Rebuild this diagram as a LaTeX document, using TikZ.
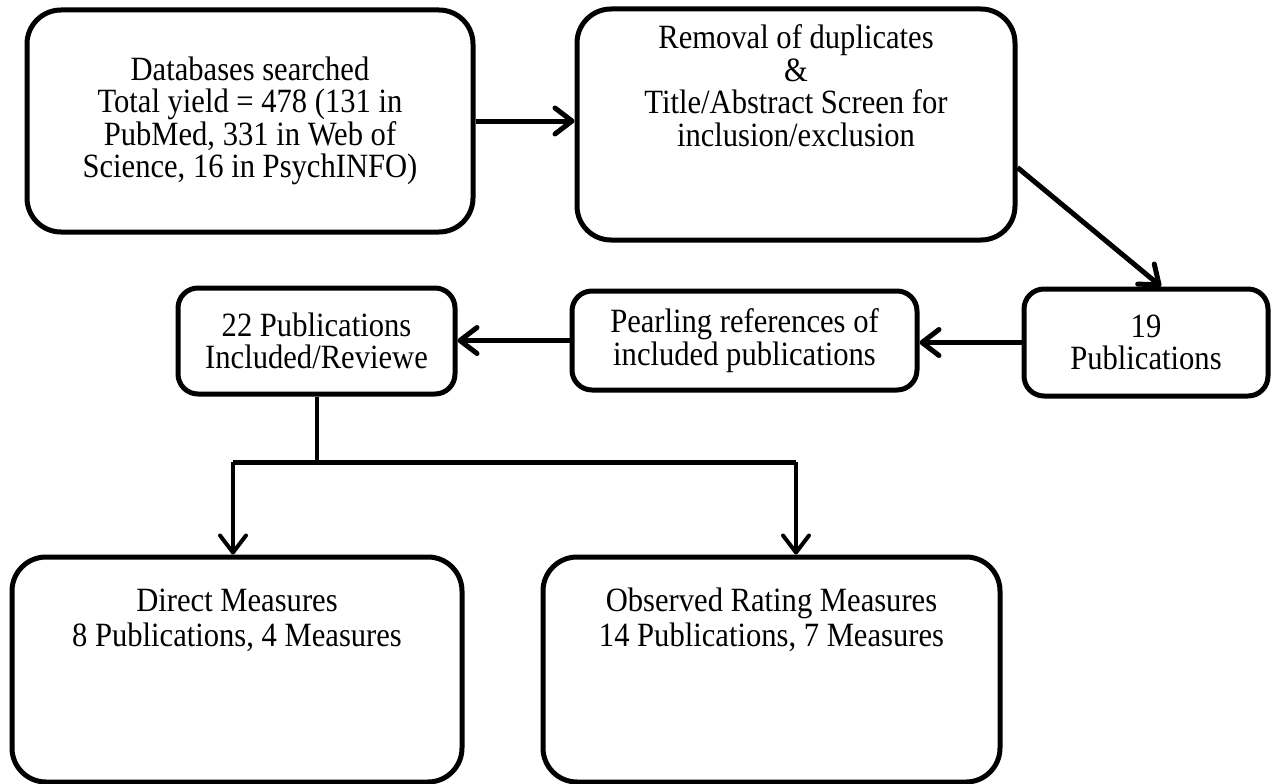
\documentclass[tikz,border=0pt]{standalone}
\usepackage{fontspec}
\setmainfont{Liberation Serif}[FakeStretch=0.9]
\usetikzlibrary{arrows.meta}

\begin{document}
\begin{tikzpicture}[x=1pt,y=-1pt]
    \tikzset{%
      bigbox/.style={draw, line width=5pt, rounded corners=34pt, align=center,
        inner sep=0pt, font=\fontsize{34}{32.5}\selectfont},
      smallbox/.style={draw, line width=5pt, rounded corners=20pt, align=center,
        inner sep=0pt, font=\fontsize{34}{32.5}\selectfont},
      arr/.style={line width=5pt, -{Straight Barb[length=17pt,width=26pt,round]}},
    }
    \useasboundingbox (0,0) rectangle (1275,784);

    % top row
    \node[bigbox, minimum width=446pt, minimum height=222pt] (search) at (250,121)
      {Databases searched\\Total yield = 478 (131 in\\PubMed, 331 in Web of\\Science, 16 in PsychINFO)};
    \node[bigbox, minimum width=438pt, minimum height=231pt, text depth=78pt] (screen) at (796,124.5)
      {Removal of duplicates\\\&\\Title/Abstract Screen for\\inclusion/exclusion};
    \draw [arr] (search.east) -- (search.east -| screen.west);

    % middle row
    \node[smallbox, minimum width=244pt, minimum height=107pt] (pubs) at (1146,342.5)
      {19\\Publications};
    \node[smallbox, minimum width=345pt, minimum height=99pt] (pearl) at (744.5,340.5)
      {Pearling references of\\included publications};
    \node[smallbox, minimum width=277pt, minimum height=106pt] (incl) at (316.5,341)
      {22 Publications\\Included/Reviewe};
    \draw [arr] (screen.-11) -- (pubs.75);
    \draw [arr] (pubs.west) -- (pubs.west -| pearl.east);
    \draw [arr] (pearl.west) -- (pearl.west -| incl.east);

    % bottom row
    \node[bigbox, minimum width=450pt, minimum height=225pt, text depth=104pt,
      font=\fontsize{34}{35}\selectfont] (direct) at (237,669.5)
      {Direct Measures\\8 Publications, 4 Measures};
    \node[bigbox, minimum width=457pt, minimum height=225pt, text depth=104pt,
      font=\fontsize{34}{35}\selectfont] (observed) at (771.5,669.5)
      {Observed Rating Measures\\14 Publications, 7 Measures};

    \coordinate (forkL) at (233,462);
    \coordinate (forkR) at (796,462);
    \draw [line width=4pt] (incl.south) -- (incl.south |- forkL);
    \draw [line width=5pt] (forkL) -- (forkR);
    \draw [arr, line width=4pt] (forkL) -- (forkL |- direct.north);
    \draw [arr, line width=4pt] (forkR) -- (forkR |- observed.north);
\end{tikzpicture}
\end{document}
